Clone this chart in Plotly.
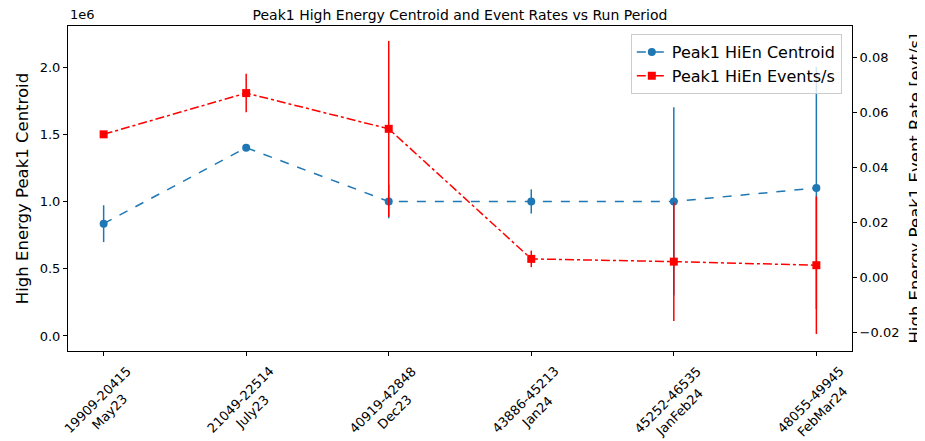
import plotly.graph_objects as go

runs = ["19909-20415<br>May23", "21049-22514<br>July23", "40919-42848<br>Dec23",
        "43886-45213<br>Jan24", "45252-46535<br>JanFeb24", "48055-49945<br>FebMar24"]
centroid = [0.835e6, 1.40e6, 1.0e6, 1.0e6, 1.0e6, 1.10e6]
centroid_err = [0.137e6, 0.0, 0.125e6, 0.09e6, 0.70e6, 0.90e6]
rate = [0.052, 0.067, 0.054, 0.0067, 0.0057, 0.0044]
rate_err = [0.0012, 0.007, 0.032, 0.003, 0.0216, 0.025]

y1_ticks = [0.0, 0.5e6, 1.0e6, 1.5e6, 2.0e6]
y1_text = ["0.0", "0.5", "1.0", "1.5", "2.0"]
y2_ticks = [-0.02, 0.0, 0.02, 0.04, 0.06, 0.08]
y2_text = ["\u22120.02", "0.00", "0.02", "0.04", "0.06", "0.08"]

BLUE = "#1f77b4"
RED = "#ff0000"
FONT = "DejaVu Sans"

fig = go.Figure()
fig.add_trace(go.Scatter(
    x=runs, y=centroid, name="Peak1 HiEn Centroid", mode="lines+markers",
    line=dict(color=BLUE, width=1.5, dash="dash"),
    marker=dict(color=BLUE, size=8, symbol="circle"),
    error_y=dict(type="data", array=centroid_err, visible=True, color=BLUE, thickness=1.5, width=0),
    yaxis="y"))
fig.add_trace(go.Scatter(
    x=runs, y=rate, name="Peak1 HiEn Events/s", mode="lines+markers",
    line=dict(color=RED, width=1.5, dash="dashdot"),
    marker=dict(color=RED, size=8, symbol="square"),
    error_y=dict(type="data", array=rate_err, visible=True, color=RED, thickness=1.5, width=0),
    yaxis="y2"))

annotations = []
for r in runs:
    annotations.append(dict(
        x=r, xref="x", y=-0.031, yref="paper", text=r, showarrow=False,
        textangle=-45, xanchor="center", yanchor="top", align="center",
        font=dict(family=FONT, size=13, color="black")))
annotations.append(dict(
    x=0, xref="paper", y=1.005, yref="paper", text="1e6", showarrow=False,
    xanchor="left", yanchor="bottom", font=dict(family=FONT, size=13, color="black")))

fig.update_layout(
    width=917, height=433,
    margin=dict(l=60, r=73, t=18, b=90, autoexpand=False),
    paper_bgcolor="white", plot_bgcolor="white",
    font=dict(family=FONT, size=13, color="black"),
    title=dict(text="Peak1 High Energy Centroid and Event Rates vs Run Period",
               x=0.5, xref="paper", xanchor="center", y=0.983, yanchor="middle",
               font=dict(family=FONT, size=14, color="black"), automargin=False),
    xaxis=dict(range=[-0.25, 5.25], showticklabels=False, ticks="outside", ticklen=4,
               tickcolor="black", showline=True, linecolor="black", linewidth=1,
               mirror=True, showgrid=False, zeroline=False, automargin=False),
    yaxis=dict(range=[-0.112e6, 2.305e6], tickvals=y1_ticks, ticktext=y1_text,
               ticks="outside", ticklen=4, tickcolor="black", showline=True,
               linecolor="black", linewidth=1, showgrid=False, zeroline=False,
               automargin=False,
               title=dict(text="High Energy Peak1 Centroid", font=dict(family=FONT, size=16.5),
                          standoff=6),
               tickfont=dict(family=FONT, size=13)),
    yaxis2=dict(range=[-0.0268, 0.0914], tickvals=y2_ticks, ticktext=y2_text,
                overlaying="y", side="right", ticks="outside", ticklen=4,
                tickcolor="black", showline=True, linecolor="black", linewidth=1,
                showgrid=False, zeroline=False, automargin=False,
                title=dict(text="High Energy Peak1 Event Rate [evt/s]",
                           font=dict(family=FONT, size=16.5), standoff=14),
                tickfont=dict(family=FONT, size=13)),
    legend=dict(x=0.987, xanchor="right", y=0.975, yanchor="top",
                bgcolor="rgba(255,255,255,0.8)", bordercolor="#cccccc", borderwidth=1,
                font=dict(family=FONT, size=16), tracegroupgap=0),
    showlegend=True,
    annotations=annotations,
)

fig.write_html("out.html")
